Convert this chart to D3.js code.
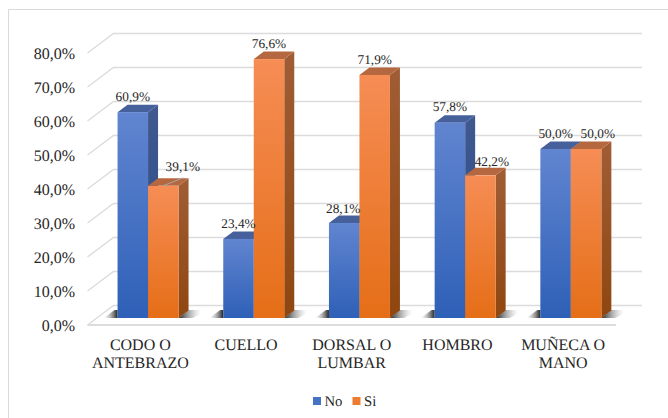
<!DOCTYPE html>
<html>
<head>
<meta charset="utf-8">
<script src="https://cdn.jsdelivr.net/npm/d3@7"></script>
<style>
  html, body { margin: 0; padding: 0; background: #fff; }
  svg { display: block; }
  text { font-family: "Liberation Serif", serif; fill: #262626; text-rendering: geometricPrecision; }
</style>
</head>
<body>
<div id="chart"></div>
<script>
let width = 668;
let height = 418;

const categories = [["CODO O", "ANTEBRAZO"], ["CUELLO"], ["DORSAL O", "LUMBAR"], ["HOMBRO"], ["MUÑECA O", "MANO"]];
const seriesNames = ["No", "Si"];
const noValues = [60.9, 23.4, 28.1, 57.8, 50.0];
const siValues = [39.1, 76.6, 71.9, 42.2, 50.0];
const yTicks = [0, 10, 20, 30, 40, 50, 60, 70, 80];

// label nudges for the few labels Excel pushed off the bar centre [dx, dy]
const labelNudge = {
  "No-2": [-1, 1],
  "Si-0": [19.5, -3],
  "Si-3": [11.5, 1.5],
  "Si-4": [11.7, 0]
};

// fake 3D: the back wall is shifted by depth from the front plane
let depth = { x: 26, y: -19.5 };
let barDepth = { x: 10, y: -7.5 };

let svg = d3.select("#chart")
  .append("svg")
  .attr("width", width)
  .attr("height", height)
  .style("background-color", "#ffffff");

let defs = svg.append("defs");
addGradient("blue-front", "#6185d0", "#2e60b7");
addGradient("blue-side", "#40598f", "#27498a");
addGradient("orange-front", "#f68d55", "#e56e17");
addGradient("orange-side", "#a05d35", "#8f4610");

let shadow = defs.append("linearGradient").attr("id", "floor-shadow");
shadow.append("stop").attr("offset", 0).attr("stop-color", "#222").attr("stop-opacity", 1);
shadow.append("stop").attr("offset", 0.75).attr("stop-color", "#aaa").attr("stop-opacity", 0);

let shadowLeft = defs.append("linearGradient").attr("id", "floor-shadow-left");
shadowLeft.append("stop").attr("offset", 0).attr("stop-color", "#aaa").attr("stop-opacity", 0);
shadowLeft.append("stop").attr("offset", 1).attr("stop-color", "#222").attr("stop-opacity", 1);

let xscale = d3.scaleBand()
  .domain(d3.range(categories.length))
  .range([87.5, 616]);

let xinner = d3.scaleBand()
  .domain(seriesNames)
  .range([0, 61]);

let yscale = d3.scaleLinear()
  .domain([0, 80])
  .range([318, 47.6]);

// the tick labels sit on the front plane, slightly under the bars
let yaxisScale = d3.scaleLinear()
  .domain([0, 80])
  .range([325, 53]);

drawFrame();
drawGrid();
drawFloorShadows();

let bars = [];
categories.forEach((c, i) => {
  seriesNames.forEach((s, j) => {
    bars.push({ cat: i, name: s, value: (j == 0 ? noValues : siValues)[i] });
  });
});

// Si bars go on top so their tops overlap the No side faces
let barG = svg.append("g").attr("id", "bars");
bars.forEach(drawBar);
bars.forEach(drawValueLabel);

// leader line Excel adds for the moved label
let first = bars.find(d => d.cat == 0 && d.name == "Si");
svg.append("line")
  .attr("x1", barX(first) + 15)
  .attr("y1", yscale(first.value))
  .attr("x2", barX(first) + 35)
  .attr("y2", yscale(first.value) - 8)
  .attr("stroke", "#a6a6a6")
  .attr("stroke-width", 1);

drawAxisLabels();
drawLegend();

function barX(d) {
  return xscale(d.cat) + xscale.bandwidth() / 2 - 22.8 + xinner(d.name);
}

function addGradient(id, top, bottom) {
  let g = defs.append("linearGradient")
    .attr("id", id)
    .attr("x1", 0).attr("y1", 0)
    .attr("x2", 0).attr("y2", 1);
  g.append("stop").attr("offset", 0).attr("stop-color", top);
  g.append("stop").attr("offset", 1).attr("stop-color", bottom);
}

function drawFrame() {
  svg.append("path")
    .attr("d", `M8.5,${height} V9.5 H${width}`)
    .attr("fill", "none")
    .attr("stroke", "#d9d9d9")
    .attr("stroke-width", 1);
}

function drawGrid() {
  let x0 = xscale.range()[0];
  let x1 = xscale.range()[1];
  let grid = svg.append("g").attr("id", "grid")
    .attr("stroke", "#dcdcdc")
    .attr("stroke-width", 1.4)
    .attr("fill", "none");

  yTicks.forEach(t => {
    let y = yaxisScale(t);
    grid.append("path")
      .attr("d", `M${x0},${y} L${x0 + depth.x},${y + depth.y} H${x1 + depth.x}`);
  });

  grid.append("line")
    .attr("x1", x0).attr("x2", x1)
    .attr("y1", yaxisScale(0)).attr("y2", yaxisScale(0))
    .attr("stroke-width", 2);
}

function drawFloorShadows() {
  let g = svg.append("g").attr("id", "floor-shadows");
  categories.forEach((c, i) => {
    let left = barX({ cat: i, name: "No" });
    let right = left + 61;
    let y = yscale(0);
    g.append("path")
      .attr("d", `M${left},${y} L${left - 14},${y} L${left - 3},${y - 8} H${left} Z`)
      .attr("fill", "url(#floor-shadow-left)");
    g.append("path")
      .attr("d", `M${right},${y} L${right + 10},${y - 8} H${right + 30} L${right + 14},${y} Z`)
      .attr("fill", "url(#floor-shadow)");
  });
}

function drawBar(d) {
  let x = barX(d);
  let w = xinner.bandwidth();
  let y = yscale(d.value);
  let y0 = yscale(0);
  let colour = d.name == "No" ? "blue" : "orange";
  let topFill = d.name == "No" ? "#46609c" : "#b5683f";

  barG.append("path")
    .attr("d", `M${x + w},${y} l${barDepth.x},${barDepth.y} V${y0 + barDepth.y} L${x + w},${y0} Z`)
    .attr("fill", `url(#${colour}-side)`);
  barG.append("path")
    .attr("d", `M${x},${y} l${barDepth.x},${barDepth.y} h${w} l${-barDepth.x},${-barDepth.y} Z`)
    .attr("fill", topFill);
  barG.append("rect")
    .attr("x", x)
    .attr("y", y)
    .attr("width", w)
    .attr("height", y0 - y)
    .attr("fill", `url(#${colour}-front)`);
}

function drawValueLabel(d) {
  let nudge = labelNudge[`${d.name}-${d.cat}`] || [0, 0];
  svg.append("text")
    .attr("x", barX(d) + xinner.bandwidth() / 2 + nudge[0])
    .attr("y", yscale(d.value) - 16 + nudge[1])
    .attr("dy", "0.35em")
    .attr("text-anchor", "middle")
    .attr("font-size", 13.3)
    .text(d.value.toFixed(1).replace(".", ",") + "%");
}

function drawAxisLabels() {
  let yaxis = svg.append("g")
    .attr("id", "y-axis")
    .attr("transform", "translate(75, 0)")
    .call(d3.axisLeft(yaxisScale)
      .tickValues(yTicks)
      .tickSize(0)
      .tickPadding(0)
      .tickFormat(d => d.toFixed(1).replace(".", ",") + "%"));
  yaxis.select(".domain").remove();
  yaxis.selectAll("text")
    .attr("font-size", 16)
    .attr("font-family", "Liberation Serif")
    .attr("fill", "#262626");

  let xlabels = svg.append("g").attr("id", "x-axis");
  categories.forEach((lines, i) => {
    lines.forEach((line, k) => {
      xlabels.append("text")
        .attr("x", xscale(i) + xscale.bandwidth() / 2)
        .attr("y", 344 + 18.3 * k)
        .attr("dy", "0.35em")
        .attr("text-anchor", "middle")
        .attr("font-size", 16)
        .text(line);
    });
  });
}

function drawLegend() {
  let legend = svg.append("g").attr("id", "legend");
  let colours = { No: "#4472c4", Si: "#ed7d31" };
  let swatchX = { No: 313, Si: 352.5 };
  seriesNames.forEach(s => {
    legend.append("rect")
      .attr("x", swatchX[s])
      .attr("y", 397)
      .attr("width", 8)
      .attr("height", 8)
      .attr("fill", colours[s]);
    legend.append("text")
      .attr("x", swatchX[s] + 11.5)
      .attr("y", 401)
      .attr("dy", "0.35em")
      .attr("font-size", 14.7)
      .text(s);
  });
}
</script>
</body>
</html>
